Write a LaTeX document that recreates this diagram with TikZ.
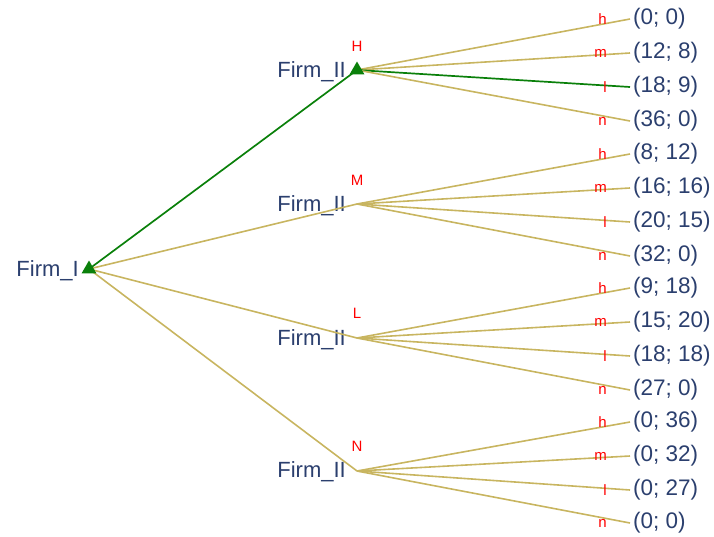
\documentclass[tikz,border=0pt]{standalone}
\usepackage{fontspec}
\setmainfont{Liberation Sans}
\usepackage{tikz}
\usetikzlibrary{positioning,shapes.geometric}
\definecolor{navy}{HTML}{2B3F6E}
\definecolor{tan}{HTML}{C8B560}
\definecolor{eqgreen}{HTML}{0A800A}
\definecolor{actred}{HTML}{FF0000}

\begin{document}
\begin{tikzpicture}[
  x=1pt, y=-1pt,
  player/.style={text=navy, font=\fontsize{22}{26}\selectfont, inner sep=0pt, anchor=east},
  payoff/.style={text=navy, font=\fontsize{22.5}{26}\selectfont, inner sep=3pt, anchor=west},
  act/.style={text=actred, font=\fontsize{15}{17}\selectfont, inner sep=0pt},
  branch/.style={draw=tan, line width=1.6pt},
  eqbranch/.style={draw=eqgreen, line width=1.7pt},
  eqmark/.style={regular polygon, regular polygon sides=3, fill=eqgreen, draw=none,
                 inner sep=0pt, minimum size=17pt}
]
  \useasboundingbox (0,0) rectangle (714,536);

  % decision points
  \coordinate (root) at (89,269);
  \coordinate (dH) at (357,70);
  \coordinate (dM) at (357,204);
  \coordinate (dL) at (357,338);
  \coordinate (dN) at (357,471);

  \node[player] (firmI) at (79,271) {Firm\_I};
  \node[player] (firmH) at (346,72) {Firm\_II};
  \node[player] (firmM) at (346,206) {Firm\_II};
  \node[player] (firmL) at (346,340) {Firm\_II};
  \node[player] (firmN) at (346,472) {Firm\_II};

  \node[act] (aH) at (357,46) {H};
  \node[act] (aM) at (357,180) {M};
  \node[act] (aL) at (357,313) {L};
  \node[act] (aN) at (357,446) {N};

  % payoffs
  \node[payoff] (pHh) at (630,19) {(0; 0)};
  \node[payoff] (pHm) at (630,53) {(12; 8)};
  \node[payoff] (pHl) at (630,87) {(18; 9)};
  \node[payoff] (pHn) at (630,121) {(36; 0)};
  \node[payoff] (pMh) at (630,154) {(8; 12)};
  \node[payoff] (pMm) at (630,188) {(16; 16)};
  \node[payoff] (pMl) at (630,222) {(20; 15)};
  \node[payoff] (pMn) at (630,256) {(32; 0)};
  \node[payoff] (pLh) at (630,288) {(9; 18)};
  \node[payoff] (pLm) at (630,322) {(15; 20)};
  \node[payoff] (pLl) at (630,356) {(18; 18)};
  \node[payoff] (pLn) at (630,390) {(27; 0)};
  \node[payoff] (pNh) at (630,422) {(0; 36)};
  \node[payoff] (pNm) at (630,456) {(0; 32)};
  \node[payoff] (pNl) at (630,490) {(0; 27)};
  \node[payoff] (pNn) at (630,523) {(0; 0)};

  % branches
  \draw[eqbranch] (root) -- (dH);
  \draw[branch] (root) -- (dM);
  \draw[branch] (root) -- (dL);
  \draw[branch] (root) -- (dN);

  \draw[branch] (dH) -- (pHh.west);
  \draw[branch] (dH) -- (pHm.west);
  \draw[eqbranch] (dH) -- (pHl.west);
  \draw[branch] (dH) -- (pHn.west);
  \draw[branch] (dM) -- (pMh.west);
  \draw[branch] (dM) -- (pMm.west);
  \draw[branch] (dM) -- (pMl.west);
  \draw[branch] (dM) -- (pMn.west);
  \draw[branch] (dL) -- (pLh.west);
  \draw[branch] (dL) -- (pLm.west);
  \draw[branch] (dL) -- (pLl.west);
  \draw[branch] (dL) -- (pLn.west);
  \draw[branch] (dN) -- (pNh.west);
  \draw[branch] (dN) -- (pNm.west);
  \draw[branch] (dN) -- (pNl.west);
  \draw[branch] (dN) -- (pNn.west);

  % second mover's choices
  \node[act, left=23pt of pHh] (cHh) {h};
  \node[act, left=23pt of pHm] (cHm) {m};
  \node[act, left=23pt of pHl] (cHl) {l};
  \node[act, left=23pt of pHn] (cHn) {n};
  \node[act, left=23pt of pMh] (cMh) {h};
  \node[act, left=23pt of pMm] (cMm) {m};
  \node[act, left=23pt of pMl] (cMl) {l};
  \node[act, left=23pt of pMn] (cMn) {n};
  \node[act, left=23pt of pLh] (cLh) {h};
  \node[act, left=23pt of pLm] (cLm) {m};
  \node[act, left=23pt of pLl] (cLl) {l};
  \node[act, left=23pt of pLn] (cLn) {n};
  \node[act, left=23pt of pNh] (cNh) {h};
  \node[act, left=23pt of pNm] (cNm) {m};
  \node[act, left=23pt of pNl] (cNl) {l};
  \node[act, left=23pt of pNn] (cNn) {n};

  % equilibrium marks
  \node[eqmark] (mRoot) at (root) {};
  \node[eqmark] (mH) at (dH) {};
\end{tikzpicture}
\end{document}
